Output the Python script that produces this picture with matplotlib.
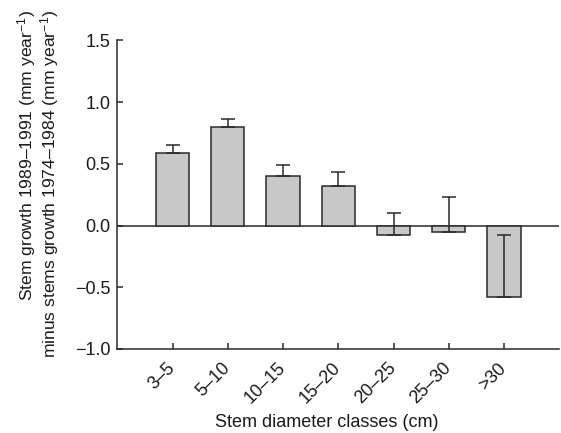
import matplotlib
matplotlib.use("Agg")
from matplotlib import pyplot as plt
import numpy as np

# Data
classes = ["3–5", "5–10", "10–15", "15–20", "20–25", "25–30", ">30"]
growth_diff = [0.59, 0.80, 0.40, 0.32, -0.075, -0.05, -0.58]
upper_err = [0.065, 0.065, 0.086, 0.11, 0.18, 0.28, 0.505]

plt.rcParams['font.family'] = ['Liberation Sans', 'DejaVu Sans']
plt.rcParams['mathtext.fontset'] = 'custom'
plt.rcParams['mathtext.rm'] = 'Liberation Sans'
plt.rcParams['mathtext.it'] = 'Liberation Sans:italic'

fs = 13
ink = "#2a2a2a"

fig = plt.figure(figsize=(5.61, 4.33), dpi=100)
ax = fig.add_axes([0.209, 0.194, 0.788, 0.713])

x = np.arange(1, len(classes) + 1)
ax.bar(x, growth_diff, width=0.6, color="#c8c8c8", edgecolor=ink,
       linewidth=1.1, zorder=2)
ax.errorbar(x, growth_diff, yerr=[np.zeros(len(x)), upper_err], fmt="none",
            ecolor=ink, elinewidth=1.1, capsize=5, capthick=1.1, zorder=3)
ax.axhline(0, color=ink, linewidth=1.1, zorder=1)

ax.set_xlim(0, 8)
ax.set_ylim(-1.0, 1.5)
ax.set_yticks([-1.0, -0.5, 0.0, 0.5, 1.0, 1.5])
ax.set_xticks(x)
ax.set_xticklabels(classes, rotation=45, ha="right", va="center",
                   rotation_mode="anchor")

for side in ["top", "right"]:
    ax.spines[side].set_visible(False)
for side in ["left", "bottom"]:
    ax.spines[side].set_color(ink)
    ax.spines[side].set_linewidth(1.1)

ax.tick_params(axis="both", direction="in", length=4, width=1.1,
               colors=ink, labelsize=fs, labelcolor="#1a1a1a")
ax.tick_params(axis="x", pad=12)
ax.tick_params(axis="y", pad=5)

ax.set_xlabel("Stem diameter classes (cm)", fontsize=fs, color="#1a1a1a")
ax.xaxis.label.set_va("center")
ax.xaxis.set_label_coords(0.473, -0.239)

ax.set_ylabel("Stem growth 1989–1991 (mm year$^{-1}$)\n"
              "minus stems growth 1974–1984 (mm year$^{-1}$)",
              fontsize=12.6, color="#1a1a1a", linespacing=1.0,
              multialignment="right")
ax.yaxis.label.set_va("center")
ax.yaxis.set_label_coords(-0.18, 0.535)

fig.savefig("out.png", dpi=100)
